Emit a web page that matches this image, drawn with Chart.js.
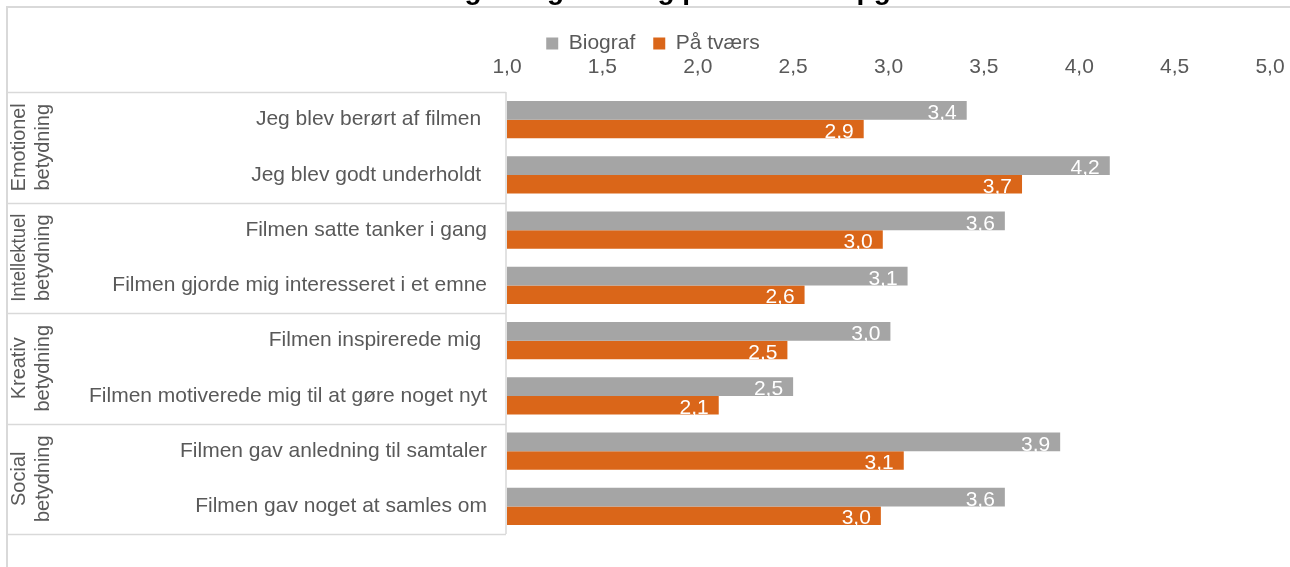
<!DOCTYPE html>
<html>
<head>
<meta charset="utf-8">
<script src="https://cdn.jsdelivr.net/npm/chart.js@4/dist/chart.umd.min.js"></script>
<style>
  html, body { margin: 0; padding: 0; background: #fff; }
  #wrap { width: 1290px; height: 567px; position: relative; }
</style>
</head>
<body>
<div id="wrap"><canvas id="c"></canvas></div>
<script>
const titleText = "Filmenes værdi: vurdering i biografen og på tværs af opgørelsen";
const categories = [
  "Jeg blev berørt af filmen ",
  "Jeg blev godt underholdt ",
  "Filmen satte tanker i gang",
  "Filmen gjorde mig interesseret i et emne",
  "Filmen inspirerede mig ",
  "Filmen motiverede mig til at gøre noget nyt",
  "Filmen gav anledning til samtaler",
  "Filmen gav noget at samles om"
];
const groups = [
  ["Emotionel", "betydning"],
  ["Intellektuel", "betydning"],
  ["Kreativ", "betydning"],
  ["Social", "betydning"]
];
const seriesNames = ["Biograf", "På tværs"];
const biograf = [3.41, 4.16, 3.61, 3.10, 3.01, 2.50, 3.90, 3.61];
const paaTvaers = [2.87, 3.70, 2.97, 2.56, 2.47, 2.11, 3.08, 2.96];
const xTicks = [1.0, 1.5, 2.0, 2.5, 3.0, 3.5, 4.0, 4.5, 5.0];

const GRAY = "#A5A5A5";
const ORANGE = "#DA6619";
const TXT = "#595959";
const LINE = "#D9D9D9";
const FONT = "'Liberation Sans', Arial, sans-serif";

const fmt = v => v.toFixed(1).replace(".", ",");

const decor = {
  id: "decor",
  afterLayout(chart) {
    const lg = chart.legend;
    if (lg) {
      lg.left += 18; lg.right += 18;
      lg.top += 12; lg.bottom += 12;
    }
  },
  beforeDraw(chart) {
    const ctx = chart.ctx;
    ctx.save();
    // clipped title (only its lower edge is visible, as in the reference)
    ctx.font = "bold 28px " + FONT;
    ctx.fillStyle = "#000";
    ctx.textAlign = "left";
    ctx.textBaseline = "alphabetic";
    ctx.fillText(titleText, 130, -1);
    // outer frame
    ctx.strokeStyle = LINE;
    ctx.lineWidth = 2;
    ctx.beginPath();
    ctx.moveTo(7, 600); ctx.lineTo(7, 7); ctx.lineTo(1300, 7);
    ctx.stroke();
    // group box
    const y = chart.scales.y;
    const step = y.getPixelForValue(1) - y.getPixelForValue(0);
    const top = y.getPixelForValue(0) - step / 2;
    const bottom = y.getPixelForValue(categories.length - 1) + step / 2;
    const right = 506;
    ctx.lineWidth = 1.5;
    ctx.beginPath();
    for (let g = 0; g <= groups.length; g++) {
      const yy = Math.round(top + g * 2 * step) + 0.5;
      ctx.moveTo(7, yy); ctx.lineTo(right, yy);
    }
    ctx.moveTo(right, top); ctx.lineTo(right, bottom);
    ctx.stroke();
    // group labels
    ctx.fillStyle = TXT;
    ctx.font = "20px " + FONT;
    ctx.textAlign = "center";
    ctx.textBaseline = "middle";
    groups.forEach((lines, g) => {
      const cy = (y.getPixelForValue(g * 2) + y.getPixelForValue(g * 2 + 1)) / 2;
      lines.forEach((t, i) => {
        ctx.save();
        ctx.translate(19 + i * 24, cy);
        ctx.rotate(-Math.PI / 2);
        ctx.fillText(t, 0, 0, 88);
        ctx.restore();
      });
    });
    ctx.restore();
  },
  afterDatasetsDraw(chart) {
    const ctx = chart.ctx;
    ctx.save();
    ctx.font = "21px " + FONT;
    ctx.fillStyle = "#FFFFFF";
    ctx.textAlign = "right";
    ctx.textBaseline = "middle";
    chart.data.datasets.forEach((ds, di) => {
      chart.getDatasetMeta(di).data.forEach((bar, i) => {
        ctx.fillText(fmt(ds.data[i]), bar.x - 10, bar.y + 3);
      });
    });
    ctx.restore();
  }
};

new Chart(document.getElementById("c"), {
  type: "bar",
  data: {
    labels: categories,
    datasets: [
      { label: seriesNames[0], data: biograf, backgroundColor: GRAY, borderWidth: 0 },
      { label: seriesNames[1], data: paaTvaers, backgroundColor: ORANGE, borderWidth: 0 }
    ]
  },
  options: {
    indexAxis: "y",
    responsive: true,
    maintainAspectRatio: false,
    animation: false,
    layout: { padding: { left: 0, right: 20, top: 3, bottom: 33 } },
    datasets: { bar: { barPercentage: 1, categoryPercentage: 0.67 } },
    plugins: {
      legend: {
        position: "top",
        labels: {
          color: TXT,
          font: { family: FONT, size: 21 },
          boxWidth: 12, boxHeight: 12, padding: 18
        }
      },
      tooltip: { enabled: false }
    },
    scales: {
      x: {
        position: "top",
        min: 1, max: 5,
        afterBuildTicks(scale) { scale.ticks = xTicks.map(v => ({ value: v })); },
        afterFit(scale) {
          scale.height = 40;
          scale.paddingLeft = 0;
          scale.paddingRight = 0;
        },
        ticks: {
          color: TXT,
          font: { family: FONT, size: 21 },
          padding: 12,
          callback: v => fmt(v)
        },
        grid: { display: false, drawTicks: false },
        border: { display: false }
      },
      y: {
        afterFit(scale) { scale.width = 507; },
        ticks: {
          color: TXT,
          font: { family: FONT, size: 21 },
          padding: 20
        },
        grid: { display: false, drawTicks: false },
        border: { display: false }
      }
    }
  },
  plugins: [decor]
});
</script>
</body>
</html>
